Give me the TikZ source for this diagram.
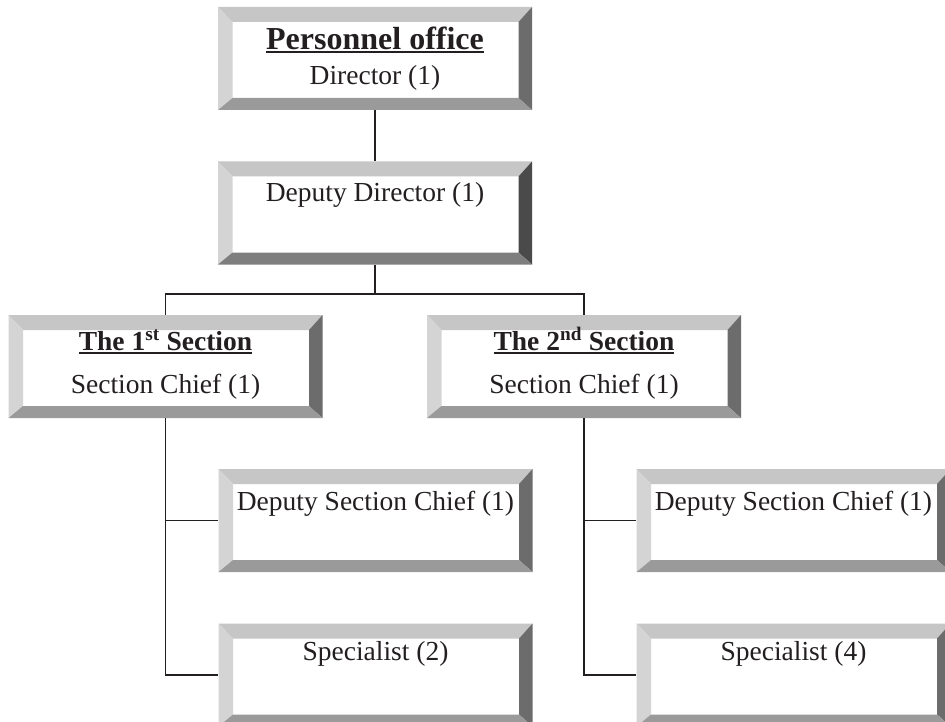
\documentclass[tikz,border=0pt]{standalone}
\usepackage{fontspec}
\setmainfont{Liberation Serif}
\usetikzlibrary{calc}
\definecolor{bvT}{HTML}{C6C6C6}
\definecolor{bvL}{HTML}{D4D4D4}
\definecolor{bvR}{HTML}{6C6C6C}
\definecolor{bvB}{HTML}{9A9A9A}
\definecolor{bvRd}{HTML}{4A4A4A}
\definecolor{bvBd}{HTML}{7E7E7E}
\definecolor{ink}{HTML}{231F20}
\newcommand\bevelpaint[2]{%
  \coordinate (o1) at (path picture bounding box.north west);
  \coordinate (o2) at (path picture bounding box.north east);
  \coordinate (o3) at (path picture bounding box.south east);
  \coordinate (o4) at (path picture bounding box.south west);
  \coordinate (i1) at ($(o1)+(14.5pt,-15pt)$);
  \coordinate (i2) at ($(o2)+(-13.5pt,-15pt)$);
  \coordinate (i3) at ($(o3)+(-13.5pt,12pt)$);
  \coordinate (i4) at ($(o4)+(14.5pt,12pt)$);
  \fill[bvT] (o1)--(o2)--(i2)--(i1)--cycle;
  \fill[bvL] (o1)--(i1)--(i4)--(o4)--cycle;
  \fill[#1] (o2)--(o3)--(i3)--(i2)--cycle;
  \fill[#2] (o4)--(i4)--(i3)--(o3)--cycle;
}
\newcommand\ulbold[1]{\setbox0\hbox{#1}\rlap{\rule[-3.5pt]{\wd0}{2pt}}\box0}
\tikzset{
  bevelbox/.style={rectangle, inner sep=0pt, fill=white,
    minimum width=314pt, minimum height=103pt,
    path picture={\bevelpaint{bvR}{bvB}}},
  bevelboxdark/.style={bevelbox,
    path picture={\bevelpaint{bvRd}{bvBd}}},
  txt/.style={anchor=base, inner sep=0pt, text=ink,
    font=\fontsize{27.5}{33}\selectfont},
  ttl/.style={anchor=base, inner sep=0pt, text=ink,
    font=\fontsize{27.5}{33}\selectfont\bfseries},
  bigttl/.style={anchor=base, inner sep=0pt, text=ink,
    font=\fontsize{32}{38}\selectfont\bfseries},
  conn/.style={draw=ink, line width=1.9pt}
}
\begin{document}
\begin{tikzpicture}[x=1pt,y=-1pt]
\useasboundingbox (0,0) rectangle (945,722);
\clip (0,0) rectangle (945,722);
\fill[white] (0,0) rectangle (945,722);

\coordinate (bus) at (375,294);
\node[bevelbox] (A) at (375,58.5) {};
\node[bevelboxdark] (B) at (375,213) {};
\node[bevelbox] (S1) at (165.5,366.5) {};
\node[bevelbox] (S2) at (584,366.5) {};
\node[bevelbox] (D1) at (375.5,520.5) {};
\node[bevelbox] (D2) at (793.5,520.5) {};
\node[bevelbox] (P1) at (375.5,675) {};
\node[bevelbox] (P2) at (793.5,675) {};

\draw[conn] (A.south) -- (B.north);
\draw[conn] (B.south) -- (bus);
\draw[conn] (S1.north) |- (bus) -| (S2.north);
\draw[conn] (S1.south) |- (D1.west);
\draw[conn] (S1.south) |- (P1.west);
\draw[conn] (S2.south) |- (D2.west);
\draw[conn] (S2.south) |- (P2.west);

\node[bigttl] (At) at (375,50) {\ulbold{Personnel office}};
\node[txt] (As) at (375,85) {Director (1)};
\node[txt] (Bt) at (375,202) {Deputy Director (1)};
\node[ttl] (S1t) at (165.5,350) {\ulbold{The 1\textsuperscript{st} Section}};
\node[txt] (S1s) at (165.5,393) {Section Chief (1)};
\node[ttl] (S2t) at (584,350) {\ulbold{The 2\textsuperscript{nd} Section}};
\node[txt] (S2s) at (584,393) {Section Chief (1)};
\node[txt] (D1t) at (375.5,510) {Deputy Section Chief (1)};
\node[txt] (D2t) at (793.5,510) {Deputy Section Chief (1)};
\node[txt] (P1t) at (375.5,660) {Specialist (2)};
\node[txt] (P2t) at (793.5,660) {Specialist (4)};
\end{tikzpicture}
\end{document}
